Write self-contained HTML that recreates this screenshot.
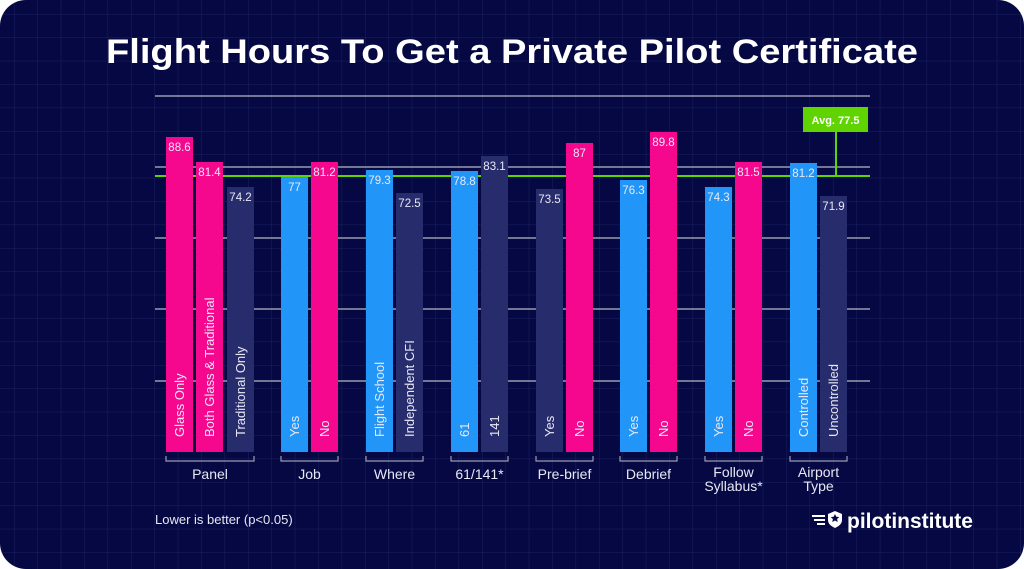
<!DOCTYPE html>
<html><head><meta charset="utf-8"><style>
html,body{margin:0;padding:0;background:#fff;}
svg{display:block;}
text{font-family:"Liberation Sans",sans-serif;}
</style></head><body>
<svg width="1024" height="569" viewBox="0 0 1024 569" xmlns="http://www.w3.org/2000/svg">
<defs>
<pattern id="g" x="14" y="14" width="23.4" height="23.4" patternUnits="userSpaceOnUse">
<path d="M0 0H23.4M0 0V23.4" stroke="#1a2060" stroke-width="1" fill="none"/>
</pattern>
<clipPath id="c"><rect x="0" y="0" width="1024" height="569" rx="26"/></clipPath>
</defs>
<g clip-path="url(#c)">
<rect width="1024" height="569" fill="#050842"/>
<rect width="1024" height="569" fill="url(#g)"/>
</g>
<text x="512" y="63" fill="#fff" font-size="34" font-weight="bold" text-anchor="middle" textLength="812" lengthAdjust="spacingAndGlyphs">Flight Hours To Get a Private Pilot Certificate</text>
<g stroke="#9a9cb0" stroke-width="1.5">
<line x1="155" y1="96" x2="870" y2="96"/>
<line x1="155" y1="167" x2="870" y2="167"/>
<line x1="155" y1="238" x2="870" y2="238"/>
<line x1="155" y1="309" x2="870" y2="309"/>
<line x1="155" y1="381" x2="870" y2="381"/>
</g>
<line x1="155" y1="176" x2="870" y2="176" stroke="#5fd400" stroke-width="2"/>
<line x1="836" y1="132" x2="836" y2="176" stroke="#5fd400" stroke-width="2"/>
<g>
<rect x="166" y="137" width="27" height="315" fill="#f5088e"/>
<rect x="196" y="162" width="27" height="290" fill="#f5088e"/>
<rect x="227" y="187" width="27" height="265" fill="#262c6c"/>
<rect x="281" y="177" width="27" height="275" fill="#2196f8"/>
<rect x="311" y="162" width="27" height="290" fill="#f5088e"/>
<rect x="366" y="170" width="27" height="282" fill="#2196f8"/>
<rect x="396" y="193" width="27" height="259" fill="#262c6c"/>
<rect x="451" y="171" width="27" height="281" fill="#2196f8"/>
<rect x="481" y="156" width="27" height="296" fill="#262c6c"/>
<rect x="536" y="189" width="27" height="263" fill="#262c6c"/>
<rect x="566" y="143" width="27" height="309" fill="#f5088e"/>
<rect x="620" y="180" width="27" height="272" fill="#2196f8"/>
<rect x="650" y="132" width="27" height="320" fill="#f5088e"/>
<rect x="705" y="187" width="27" height="265" fill="#2196f8"/>
<rect x="735" y="162" width="27" height="290" fill="#f5088e"/>
<rect x="790" y="163" width="27" height="289" fill="#2196f8"/>
<rect x="820" y="196" width="27" height="256" fill="#262c6c"/>
</g>
<rect x="803" y="107" width="65" height="25" fill="#5fd400"/>
<text x="835.5" y="124" fill="#fff" font-size="11" font-weight="bold" text-anchor="middle">Avg. 77.5</text>
<g fill="#e8e8f4" font-size="11.5" text-anchor="middle">
<text x="179.5" y="151">88.6</text>
<text x="209.5" y="176">81.4</text>
<text x="240.5" y="201">74.2</text>
<text x="294.5" y="191">77</text>
<text x="324.5" y="176">81.2</text>
<text x="379.5" y="184">79.3</text>
<text x="409.5" y="207">72.5</text>
<text x="464.5" y="185">78.8</text>
<text x="494.5" y="170">83.1</text>
<text x="549.5" y="203">73.5</text>
<text x="579.5" y="157">87</text>
<text x="633.5" y="194">76.3</text>
<text x="663.5" y="146">89.8</text>
<text x="718.5" y="201">74.3</text>
<text x="748.5" y="176">81.5</text>
<text x="803.5" y="177">81.2</text>
<text x="833.5" y="210">71.9</text>
</g>
<g fill="#e8e8f4" font-size="13">
<text transform="translate(184,437) rotate(-90)">Glass Only</text>
<text transform="translate(214,437) rotate(-90)">Both Glass &amp; Traditional</text>
<text transform="translate(245,437) rotate(-90)">Traditional Only</text>
<text transform="translate(299,437) rotate(-90)">Yes</text>
<text transform="translate(329,437) rotate(-90)">No</text>
<text transform="translate(384,437) rotate(-90)">Flight School</text>
<text transform="translate(414,437) rotate(-90)">Independent CFI</text>
<text transform="translate(469,437) rotate(-90)">61</text>
<text transform="translate(499,437) rotate(-90)">141</text>
<text transform="translate(554,437) rotate(-90)">Yes</text>
<text transform="translate(584,437) rotate(-90)">No</text>
<text transform="translate(638,437) rotate(-90)">Yes</text>
<text transform="translate(668,437) rotate(-90)">No</text>
<text transform="translate(723,437) rotate(-90)">Yes</text>
<text transform="translate(753,437) rotate(-90)">No</text>
<text transform="translate(808,437) rotate(-90)">Controlled</text>
<text transform="translate(838,437) rotate(-90)">Uncontrolled</text>
</g>
<g stroke="#9a9cb0" stroke-width="1.2" fill="none">
<path d="M166 456V461H254V456"/>
<path d="M281 456V461H338V456"/>
<path d="M366 456V461H423V456"/>
<path d="M451 456V461H508V456"/>
<path d="M536 456V461H593V456"/>
<path d="M620 456V461H677V456"/>
<path d="M705 456V461H762V456"/>
<path d="M790 456V461H847V456"/>
</g>
<g fill="#e8e8f4" font-size="14" text-anchor="middle">
<text x="210" y="479">Panel</text>
<text x="309.5" y="479">Job</text>
<text x="394.5" y="479">Where</text>
<text x="479.5" y="479">61/141*</text>
<text x="564.5" y="479">Pre-brief</text>
<text x="648.5" y="479">Debrief</text>
<text x="733.5" y="477">Follow</text>
<text x="733.5" y="491">Syllabus*</text>
<text x="818.5" y="477">Airport</text>
<text x="818.5" y="491">Type</text>
</g>
<text x="155" y="524" fill="#e8e8f4" font-size="13">Lower is better (p&lt;0.05)</text>
<g fill="#fff">
<path d="M828 514 l7 -3 l7 3 v6 c0 4 -3 6 -7 8 c-4 -2 -7 -4 -7 -8z"/>
<rect x="812" y="515" width="13" height="2"/>
<rect x="814" y="519" width="11" height="2"/>
<rect x="817" y="523" width="8" height="2"/>
<text x="847" y="528" font-size="21" font-weight="bold">pilotinstitute</text>
</g>
<path d="M835 514 l1.3 2.7 l3 .3 l-2.2 2 l.6 3 l-2.7 -1.5 l-2.7 1.5 l.6 -3 l-2.2 -2 l3 -.3z" fill="#050842"/>
</svg>
</body></html>
